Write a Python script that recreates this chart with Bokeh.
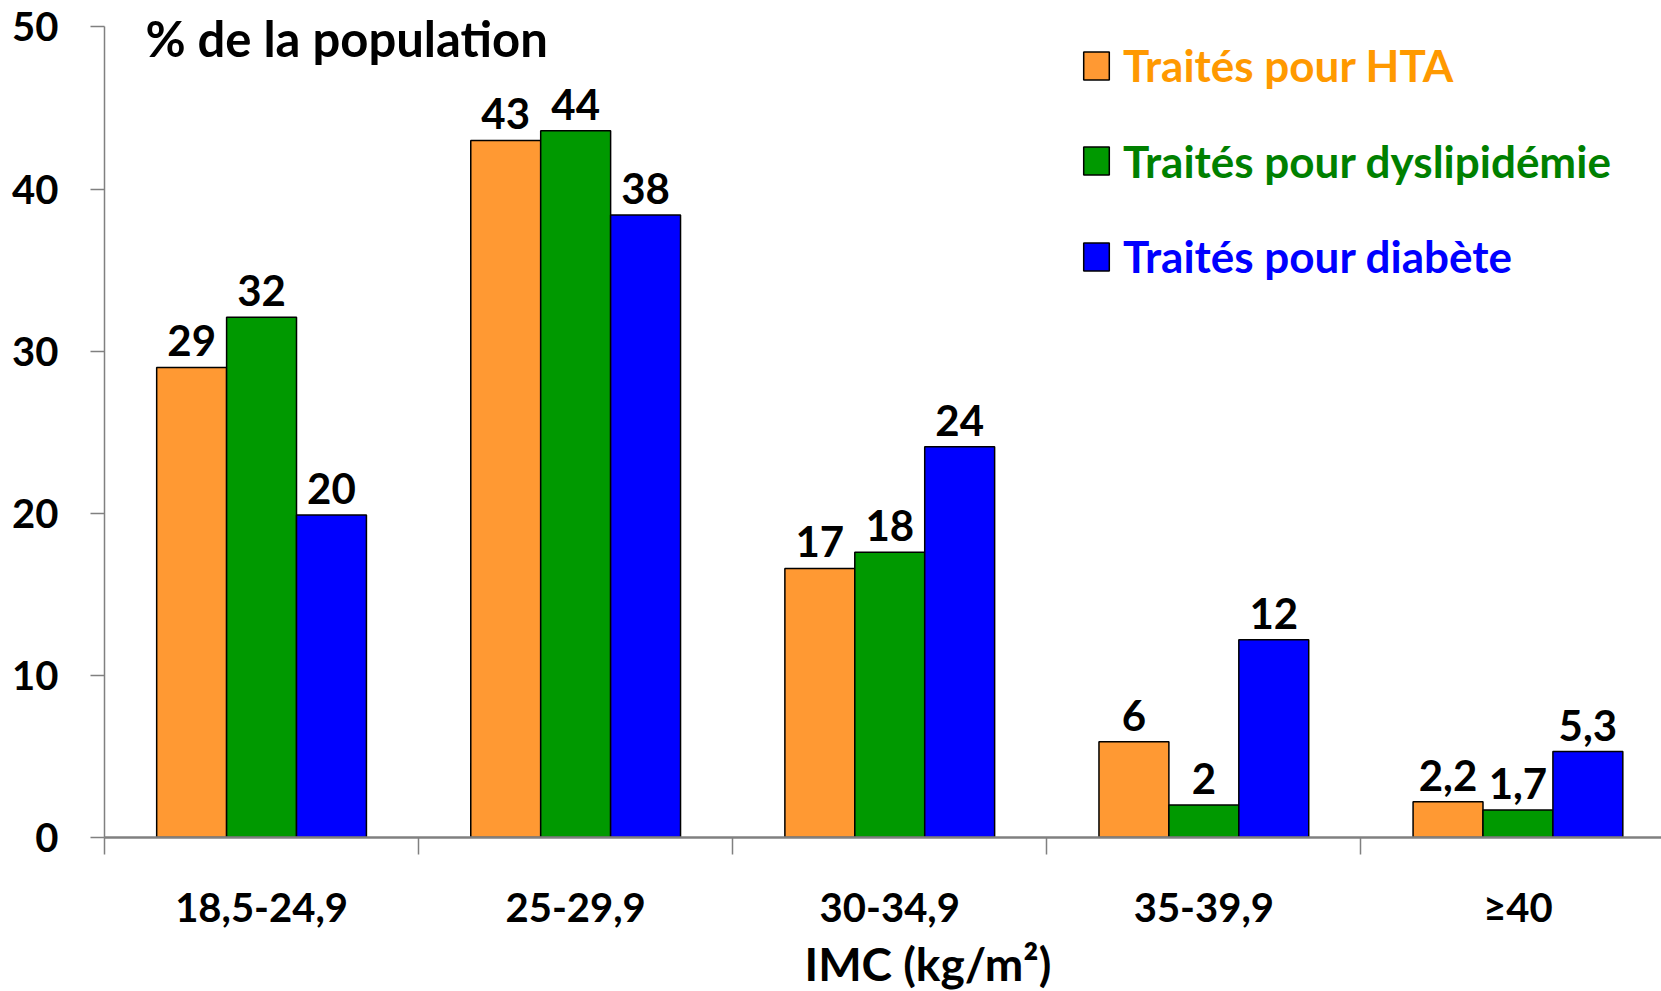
from bokeh.plotting import figure
from bokeh.models import FixedTicker, Legend, LegendItem, Label, ColumnDataSource, Title
from bokeh.embed import file_html
from bokeh.resources import INLINE
from bokeh.core.properties import value

# ---- data ----
categories = ["18,5-24,9", "25-29,9", "30-34,9", "35-39,9", "≥40"]
hta = [29.0, 43.0, 16.6, 5.9, 2.2]
dyslip = [32.1, 43.6, 17.6, 2.0, 1.7]
diabete = [19.9, 38.4, 24.1, 12.2, 5.3]
hta_labels = ["29", "43", "17", "6", "2,2"]
dyslip_labels = ["32", "44", "18", "2", "1,7"]
diabete_labels = ["20", "38", "24", "12", "5,3"]
series_names = ["Traités pour HTA", "Traités pour dyslipidémie", "Traités pour diabète"]
y_ticks = [0, 10, 20, 30, 40, 50]
y_title = "% de la population"
x_title = "IMC (kg/m²)"

# ---- layout / style ----
FONT = "Lato"
W, H = 1661, 991
LEFT = 104
FRAME_H = 838
CAT_PX = 314.1
PX_PER_UNIT = 16.23
frame_w = W - LEFT
x_end = frame_w / CAT_PX
y_end = FRAME_H / PX_PER_UNIT
BAR_W = 0.2226
offsets = [-BAR_W, 0.0, BAR_W]
bar_colors = ["#FF9933", "#009900", "#0000FF"]
text_colors = ["#FF9900", "#008000", "#0000FF"]
AXIS_GREY = "#808080"

p = figure(width=W, height=H, x_range=(0, x_end), y_range=(0, y_end),
           output_backend="svg", toolbar_location=None, title=None,
           min_border_left=LEFT, min_border_right=0, min_border_top=0,
           min_border_bottom=H - FRAME_H)
p.outline_line_color = None
p.xgrid.visible = False
p.ygrid.visible = False
p.background_fill_color = "white"
p.border_fill_color = "white"

renderers = []
for vals, labs, off, col in zip([hta, dyslip, diabete],
                                [hta_labels, dyslip_labels, diabete_labels],
                                offsets, bar_colors):
    src = ColumnDataSource(dict(x=[i + 0.5 + off for i in range(len(categories))],
                                top=vals, label=labs))
    r = p.vbar(x="x", top="top", width=BAR_W, source=src, fill_color=col,
               line_color="black", line_width=1.5)
    renderers.append(r)
    p.text(x="x", y="top", text="label", source=src, text_align="center",
           text_baseline="bottom", y_offset=-11,
           text_font=value(FONT), text_font_style="bold",
           text_font_size="42px", text_color="black")

# x axis: labels at centres, ticks at category boundaries
xa = p.xaxis[0]
xa.ticker = FixedTicker(ticks=[i + 0.5 for i in range(len(categories))],
                        minor_ticks=list(range(len(categories) + 1)))
xa.major_label_overrides = {i + 0.5: c for i, c in enumerate(categories)}
xa.major_tick_out = 0
xa.major_tick_in = 0
xa.minor_tick_out = 17
xa.minor_tick_in = 0
xa.minor_tick_line_color = AXIS_GREY
xa.minor_tick_line_width = 1.5
xa.axis_line_color = AXIS_GREY
xa.axis_line_width = 2.5
xa.major_label_standoff = 28
xa.major_label_text_font = FONT
xa.major_label_text_font_style = "bold"
xa.major_label_text_font_size = "40px"
xa.major_label_text_color = "black"

ya = p.yaxis[0]
ya.ticker = FixedTicker(ticks=y_ticks, minor_ticks=[])
ya.bounds = (0, 50)
ya.major_tick_out = 14
ya.major_tick_in = 0
ya.major_tick_line_color = AXIS_GREY
ya.major_tick_line_width = 1.5
ya.minor_tick_line_color = None
ya.axis_line_color = AXIS_GREY
ya.axis_line_width = 1.5
ya.major_label_standoff = 32
ya.major_label_text_font = FONT
ya.major_label_text_font_style = "bold"
ya.major_label_text_font_size = "40px"
ya.major_label_text_color = "black"

# legends (one per series so each label can keep its own colour)
leg_x = 976
leg_centres = [771.6, 676.3, 580.9]
LH = 54
for name, r, tc, cy in zip(series_names, renderers, text_colors, leg_centres):
    leg = Legend(items=[LegendItem(label=name, renderers=[r])],
                 location=(leg_x, cy - LH / 2),
                 label_text_color=tc, label_text_font=FONT,
                 label_text_font_style="bold", label_text_font_size="44px",
                 glyph_width=32, glyph_height=35, label_standoff=11,
                 label_height=LH, padding=0, margin=0, spacing=0,
                 border_line_color=None, background_fill_alpha=0)
    p.add_layout(leg)

p.add_layout(Label(x=41, y=800, x_units="screen", y_units="screen", text=y_title,
                   text_font=FONT, text_font_style="bold", text_font_size="49px",
                   text_color="black", text_baseline="middle", text_align="left"))

xt = Title(text=x_title, align="left", offset=700, standoff=1,
           text_font=FONT, text_font_style="bold", text_font_size="46px",
           text_color="black")
p.add_layout(xt, "below")

open("out.html", "w").write(file_html(p, INLINE))
